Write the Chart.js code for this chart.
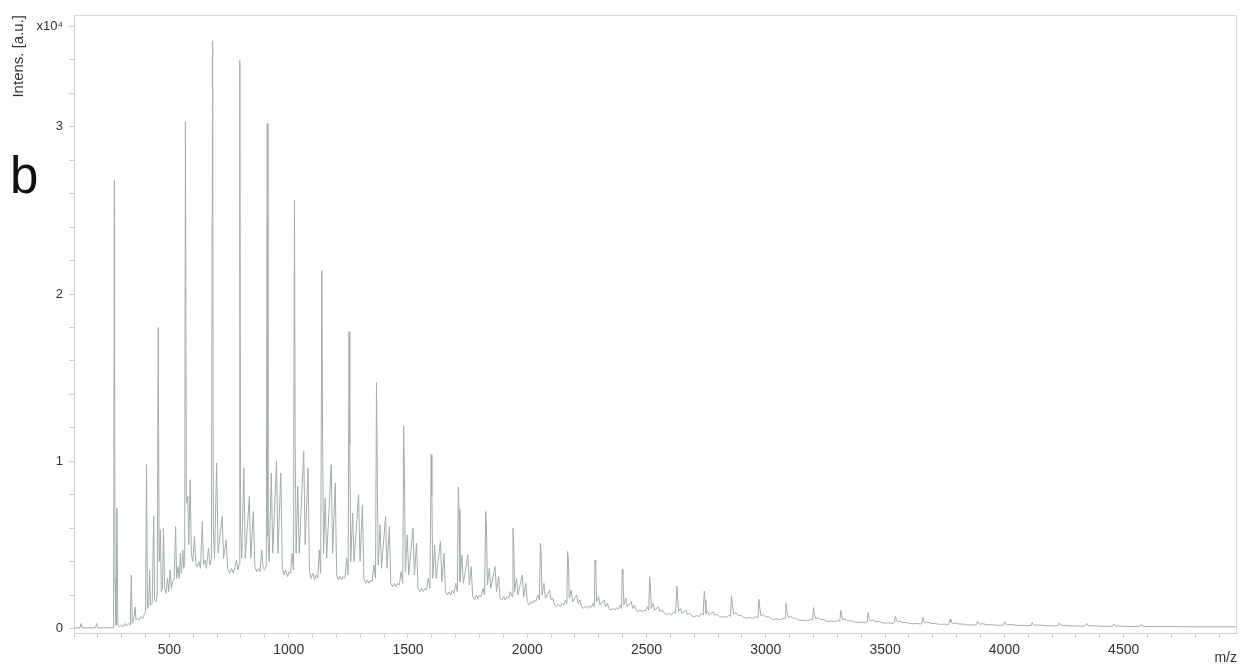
<!DOCTYPE html>
<html>
<head>
<meta charset="utf-8">
<script src="https://cdn.jsdelivr.net/npm/chart.js@4"></script>
<style>
  html, body { margin: 0; padding: 0; background: #fff; }
  #wrap { position: relative; width: 1242px; height: 670px; }
  #panel { position: absolute; left: 10px; top: 150px; font: 51px/1 'Liberation Sans', Arial, sans-serif; color: #111; }
</style>
</head>
<body>
<div id="wrap">
  <canvas id="spectrum" width="1242" height="670"></canvas>
  <div id="panel">b</div>
</div>
<script>
// MALDI spectrum, m/z vs intensity (counts)

const mz = [
  100,125,130,134,190,195,199,264,266,269,272,276,280,284,290,300,305,315,320,330,336,340,344,350,356,360,366,372,380,388,396,400,404,408,413,417,421,428,434,438,444,449,
  453,457,462,466,471,475,480,486,492,497,503,508,513,520,526,530,536,541,546,550,556,560,564,
  567,571,577,581,587,592,598,605,611,617,624,630,638,643,650,655,664,670,676,
  681,684,689,698,704,721,727,738,744,752,760,768,775,781,787,792,
  795,798,803,812,818,835,841,852,858,866,873,880,887,893,900,906,
  910,913,918,927,933,949,955,967,973,980,987,995,1002,1008,1014,1020,
  1024,1027,1031,1038,1044,1063,1069,1081,1087,1094,1101,1108,1115,1122,1128,1134,
  1139,1142,1146,1153,1159,1178,1184,1195,1201,1208,1215,1222,1229,1236,1243,1249,
  1253,1256,1260,1268,1274,1293,1299,1309,1315,1322,1329,1336,1343,1350,1357,1364,
  1368,1371,1375,1383,1389,1406,1412,1422,1428,1436,1443,1450,1457,1464,1471,1478,
  1482,1485,1489,1497,1503,1521,1527,1536,1542,1550,1557,1564,1571,1578,1585,1592,
  1597,1600,1604,1612,1618,1636,1642,1651,1657,1665,1672,1679,1686,1693,1700,1707,
  1711,1714,1718,1726,1732,1751,1757,1765,1771,1779,1786,1793,1800,1807,1814,1821,
  1826,1829,1833,1841,1847,1865,1871,1880,1886,1894,1901,1908,1915,1922,1929,1936,
  1940,1943,1947,1955,1961,1979,1985,1994,2000,2008,2015,2022,2029,2036,2044,2051,
  2055,2058,2062,2070,2076,2094,2100,2108,2114,2122,2130,2138,2146,2154,2160,2166,
  2169,2172,2176,2184,2190,2207,2213,2221,2227,2236,2244,2252,2260,2268,2275,2281,
  2284,2287,2291,2299,2305,2322,2328,2336,2342,2351,2359,2367,2375,2383,2390,2395,
  2398,2401,2405,2413,2419,2436,2442,2450,2456,2465,2473,2481,2489,2497,2504,2509,
  2513,2516,2520,2528,2534,2550,2556,2566,2575,2585,2595,2605,2614,2622,
  2627,2630,2634,2642,2648,2665,2671,2681,2690,2700,2710,2720,2729,2737,
  2742,2745,2749,2757,2763,2779,2785,2795,2805,2815,2825,2835,2844,2852,
  2856,2860,2865,2875,2885,2895,2908,2920,2932,2945,2958,2967,
  2971,2975,2980,2990,3000,3010,3023,3035,3047,3060,3072,3081,
  3085,3089,3094,3104,3114,3124,3137,3150,3162,3175,3187,3196,
  3200,3204,3209,3219,3229,3240,3253,3266,3278,3290,3302,3310,
  3314,3318,3323,3333,3345,3358,3372,3386,3400,3414,3425,
  3429,3433,3438,3448,3460,3473,3487,3501,3515,3529,3539,
  3543,3547,3552,3562,3575,3590,3605,3620,3635,3648,3654,
  3658,3662,3667,3678,3692,3707,3722,3737,3752,3764,3768,
  3772,3776,3782,3795,3810,3828,3846,3864,3880,3884,
  3887,3891,3897,3910,3928,3946,3964,3982,3996,
  4001,4005,4012,4028,4048,4068,4088,4106,4112,
  4116,4120,4128,4145,4165,4185,4205,4224,
  4230,4235,4243,4262,4282,4302,4322,4339,
  4345,4350,4358,4378,4398,4418,4438,4454,
  4459,4464,4472,4492,4515,4540,4568,
  4574,4579,4590,4620,4700,4800,4900,4975
];

const intensity = [
  40,40,300,40,40,300,40,40,100,26800,3000,200,7200,200,100,200,100,300,150,300,200,3200,300,500,1300,500,600,500,700,600,900,1000,9800,1200,1300,3500,1400,1500,6700,1700,1600,2000,
  18000,4000,5900,2200,2400,6000,2400,2100,3000,2200,3500,2400,2800,3000,6100,3000,3700,3000,4500,3300,4700,3600,4000,
  30300,7500,7900,5000,8900,4500,4000,5500,3800,3700,4000,3600,6400,3800,4100,3600,4800,3800,4200,
  35150,6000,4200,9900,4500,6700,4200,5300,3600,3300,3600,3300,3700,4100,3500,3800,
  33960,6000,4200,9600,4200,7900,4200,7000,3700,3400,3600,3400,4700,3600,3500,3800,
  30200,5500,4000,9300,4500,10000,4500,9300,3700,3200,3500,3100,3400,3300,4500,3500,
  25600,11200,4500,8500,4500,10600,5000,9600,3400,3000,3300,2900,3200,3000,4700,3300,
  21400,11500,4500,7800,4200,9800,4500,8700,3200,2900,3100,2900,3100,3000,4200,3200,
  17750,11000,4000,6900,4000,8000,4000,7400,3000,2700,2900,2700,2900,2800,3800,3000,
  14700,9700,3800,6200,3600,6700,3600,6100,2700,2500,2700,2500,2700,2600,3400,2700,
  12100,9200,3400,5600,3200,6000,3200,5100,2400,2200,2400,2200,2400,2300,3000,2400,
  10400,8000,3000,5000,3000,5200,2800,4500,2200,2000,2200,2000,2300,2100,2700,2200,
  8460,7100,2800,4400,2700,4400,2600,3700,1900,1700,2000,1800,2000,1900,2400,2000,
  7000,6000,2600,3600,2400,3700,2200,3100,1800,1700,1900,1700,1900,1800,2200,1900,
  6000,5200,2200,3000,2000,3200,1900,2700,1600,1400,1600,1500,1700,1600,2000,1700,
  5100,4600,2000,2700,1800,2300,1700,1800,1400,1300,1450,1300,1500,1400,1700,1500,
  4600,4200,1800,2300,1600,2000,1500,1700,1300,1200,1350,1200,1350,1250,1500,1300,
  4100,3800,1600,1900,1400,1700,1300,1500,1200,1100,1200,1100,1250,1150,1400,1200,
  3540,3200,1400,1800,1300,1600,1200,1400,1100,1000,1100,1000,1100,1050,1300,1100,
  3100,2600,1200,1500,1100,1300,1000,1100,900,850,900,800,1000,900,
  2540,2000,1000,1200,900,1100,850,900,750,700,780,700,900,800,
  2240,1700,900,1000,800,1000,800,850,700,680,720,660,800,720,
  1950,1400,850,950,750,800,650,620,660,600,700,650,
  1750,1200,750,850,680,720,580,550,580,520,620,580,
  1500,1000,650,750,600,620,500,480,500,450,550,500,
  1250,850,580,650,520,550,440,420,450,400,480,440,
  1100,750,500,570,450,470,380,360,380,340,400,
  950,600,450,500,400,420,340,320,340,300,360,
  750,500,400,440,350,360,300,280,300,260,320,
  670,450,350,380,300,310,260,250,260,230,280,
  550,380,300,330,260,270,220,220,210,250,
  450,320,260,280,220,230,190,200,190,
  410,280,220,240,190,190,170,180,180,
  350,240,200,210,170,170,150,160,
  330,220,180,180,150,150,140,150,
  310,200,160,160,140,130,130,140,
  270,180,140,140,120,120,130,
  250,150,120,110,110,100,100,100
];

// tick positions: m/z every 100 (labelled every 500), intensity every 2000 (labelled every 10^4)
const xTicks = [
  100,200,300,400,500,600,700,800,900,1000,1100,1200,1300,1400,1500,1600,1700,1800,1900,2000,
  2100,2200,2300,2400,2500,2600,2700,2800,2900,3000,3100,3200,3300,3400,3500,3600,3700,3800,3900,4000,
  4100,4200,4300,4400,4500,4600,4700,4800,4900
];
const yTicks = [0,2000,4000,6000,8000,10000,12000,14000,16000,18000,20000,22000,24000,26000,28000,30000,32000,34000,36000];
const xLabelEvery = 500;
const yMajor = 10000;
const yTop = 36000; // this tick carries the exponent label

const points = mz.map((m, i) => ({ x: m, y: intensity[i] }));

const frame = {
  id: 'frame',
  afterDraw(chart) {
    const { ctx, chartArea: a } = chart;
    ctx.save();
    ctx.strokeStyle = '#d6d6d6';
    ctx.lineWidth = 1;
    ctx.beginPath();
    ctx.moveTo(a.left, a.top + 0.5);
    ctx.lineTo(a.right - 0.5, a.top + 0.5);
    ctx.lineTo(a.right - 0.5, a.bottom);
    ctx.stroke();
    ctx.restore();
  }
};

Chart.defaults.font.family = "'Liberation Sans', Arial, sans-serif";
Chart.defaults.color = '#333';

new Chart(document.getElementById('spectrum'), {
  type: 'line',
  data: {
    datasets: [{
      label: 'Intens.',
      data: points,
      borderColor: '#a2adad',
      borderWidth: 1,
      pointRadius: 0,
      tension: 0,
      fill: false
    }]
  },
  options: {
    responsive: false,
    animation: false,
    layout: { padding: { left: 0, top: 15, right: 5, bottom: 0 } },
    plugins: { legend: { display: false }, tooltip: { enabled: false } },
    scales: {
      x: {
        type: 'linear',
        min: 100,
        max: 4975,
        afterBuildTicks: s => { s.ticks = xTicks.map(v => ({ value: v })); },
        afterFit: s => { s.height = 37; },
        border: { color: '#cfcfcf' },
        grid: { drawOnChartArea: false, tickLength: 5, color: '#cfcfcf' },
        ticks: {
          autoSkip: false,
          maxRotation: 0,
          padding: 4,
          font: { size: 14 },
          callback: v => (v % xLabelEvery === 0 ? String(v) : '')
        },
        title: {
          display: true,
          text: 'm/z',
          align: 'end',
          font: { size: 14 },
          padding: { top: 0, bottom: 3 }
        }
      },
      y: {
        type: 'linear',
        min: -270,
        max: 36690,
        afterBuildTicks: s => { s.ticks = yTicks.map(v => ({ value: v })); },
        afterFit: s => { s.width = 74; },
        border: { color: '#cfcfcf' },
        grid: { drawOnChartArea: false, tickLength: 5, color: '#cfcfcf' },
        ticks: {
          autoSkip: false,
          padding: 6,
          font: { size: 13 },
          callback: v => (v === yTop ? 'x10\u2074' : (v % yMajor === 0 ? String(v / yMajor) : ''))
        },
        title: {
          display: true,
          text: 'Intens. [a.u.]',
          align: 'end',
          font: { size: 15 },
          padding: { top: 10, bottom: 0 }
        }
      }
    }
  },
  plugins: [frame]
});
</script>
</body>
</html>
